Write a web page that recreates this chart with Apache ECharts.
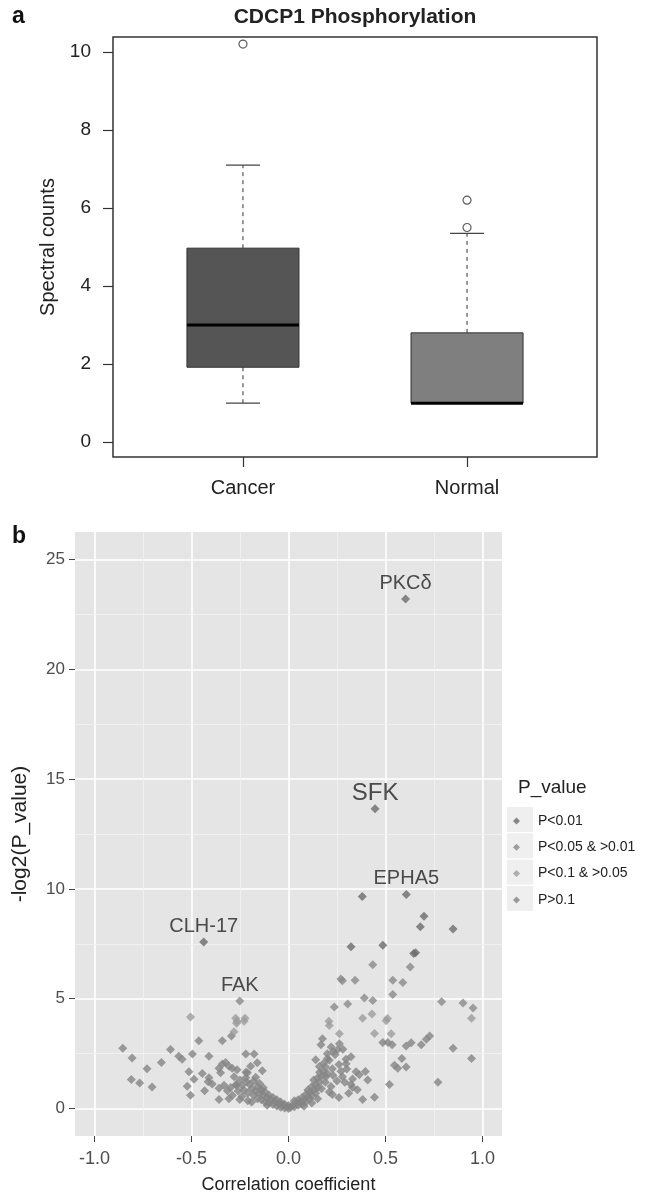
<!DOCTYPE html>
<html>
<head>
<meta charset="utf-8">
<script src="https://cdn.jsdelivr.net/npm/echarts@6.0.0/dist/echarts.min.js"></script>
<style>
  html, body { margin: 0; padding: 0; background: #fff; }
  #chart { width: 645px; height: 1199px; }
</style>
</head>
<body>
<div id="chart"></div>
<script>
// panel a - box plot
const boxCategories = ['Cancer', 'Normal'];
const boxLower = [1.0, 1.0];
const boxQ1 = [1.92, 1.0];
const boxMedian = [3.0, 1.0];
const boxQ3 = [4.97, 2.8];
const boxUpper = [7.1, 5.35];
const outlierGroup = [0, 1, 1];
const outlierValue = [10.2, 5.5, 6.2];
const yTicksA = [0, 2, 4, 6, 8, 10];

// panel b - volcano plot, [x, y, label]
const xTicksB = [-1, -0.5, 0, 0.5, 1];
const yTicksB = [0, 5, 10, 15, 20, 25];
const xMinorB = [-0.75, -0.25, 0.25, 0.75];
const yMinorB = [2.5, 7.5, 12.5, 17.5, 22.5];
const pNames = ['P<0.01', 'P<0.05 & >0.01', 'P<0.1 & >0.05', 'P>0.1'];

const pLt001 = [
  [0.603, 23.2, 'PKCδ'], [0.446, 13.65, 'SFK'], [0.607, 9.75, 'EPHA5'], [0.380, 9.65],
  [-0.437, 7.58, 'CLH-17'], [0.698, 8.75], [0.679, 8.28], [0.848, 8.18], [0.322, 7.37],
  [0.486, 7.43], [0.645, 7.06], [0.655, 7.09]
];
const pLt005 = [
  [-0.251, 4.9, 'FAK'], [0.434, 6.55], [0.627, 6.45], [0.270, 5.9], [0.278, 5.82],
  [0.343, 5.84], [0.537, 5.84], [0.589, 5.74], [0.391, 5.03], [0.434, 4.92], [0.537, 5.19],
  [0.236, 4.62], [0.305, 4.76], [0.789, 4.86], [0.899, 4.80], [0.951, 4.58]
];
const pLt01 = [
  [0.943, 4.11], [0.208, 3.97], [0.210, 3.78], [0.382, 4.11], [0.430, 4.30], [0.510, 4.10],
  [0.503, 4.00], [0.262, 3.40], [0.443, 3.42], [0.529, 3.40], [-0.505, 4.17], [-0.224, 4.11],
  [-0.229, 3.97], [-0.272, 4.11], [-0.265, 3.97], [-0.281, 3.50], [-0.268, 3.88]
];
const pGt01 = [
  // right side
  [0.727, 3.30], [0.710, 3.15], [0.486, 3.01], [0.512, 3.01], [0.534, 2.91], [0.606, 2.85],
  [0.632, 2.99], [0.684, 2.91], [0.848, 2.75], [0.231, 2.60], [0.296, 2.24], [0.584, 2.28],
  [0.943, 2.28], [0.546, 1.97], [0.606, 1.89], [0.563, 1.83], [0.348, 1.67], [0.396, 1.69],
  [0.408, 1.30], [0.520, 1.10], [0.770, 1.20], [0.330, 0.96], [0.382, 0.41], [0.443, 0.51],
  [0.175, 3.18], [0.167, 2.90], [0.262, 2.95], [0.253, 2.68], [0.322, 2.36], [0.140, 2.22],
  [0.200, 2.27], [0.159, 1.91], [0.226, 1.81], [0.297, 2.04], [0.365, 1.54], [0.193, 1.45],
  [0.278, 1.45], [0.322, 1.09], [0.219, 1.00], [0.355, 0.86], [0.226, 0.64],
  // left side
  [-0.462, 3.09], [-0.341, 3.09], [-0.294, 3.30], [-0.608, 2.69], [-0.854, 2.75], [-0.806, 2.30],
  [-0.655, 2.10], [-0.729, 1.81], [-0.565, 2.38], [-0.548, 2.24], [-0.495, 2.48], [-0.410, 2.38],
  [-0.513, 1.67], [-0.444, 1.59], [-0.410, 1.40], [-0.487, 1.33], [-0.810, 1.32], [-0.767, 1.16],
  [-0.703, 0.98], [-0.522, 1.02], [-0.432, 0.81], [-0.505, 0.61], [-0.358, 0.41], [-0.307, 0.45],
  [-0.251, 0.41], [-0.220, 2.48], [-0.177, 2.48], [-0.358, 1.83], [-0.341, 2.03], [-0.324, 2.10],
  [-0.307, 1.93], [-0.290, 1.83], [-0.350, 1.63], [-0.265, 1.77], [-0.212, 1.63], [-0.195, 1.93],
  [-0.169, 1.42], [-0.393, 1.12], [-0.358, 0.92], [-0.332, 1.06], [-0.298, 0.96], [-0.269, 1.06],
  [-0.315, 0.81], [-0.289, 0.61], [-0.161, 2.09], [-0.135, 1.72], [-0.216, 1.22], [-0.414, 1.22],
  // centre cluster, left arm
  [-0.25, 1.30], [-0.24, 1.05], [-0.23, 0.85], [-0.22, 1.40], [-0.21, 0.70], [-0.20, 1.10],
  [-0.19, 0.90], [-0.18, 1.25], [-0.18, 0.60], [-0.17, 0.80], [-0.16, 1.00], [-0.16, 0.45],
  [-0.15, 0.70], [-0.14, 0.85], [-0.14, 0.40], [-0.13, 0.60], [-0.12, 0.75], [-0.12, 0.30],
  [-0.11, 0.50], [-0.10, 0.60], [-0.10, 0.25], [-0.09, 0.40], [-0.08, 0.50], [-0.08, 0.18],
  [-0.07, 0.32], [-0.06, 0.40], [-0.06, 0.12], [-0.05, 0.25], [-0.04, 0.30], [-0.04, 0.06],
  [-0.03, 0.16], [-0.02, 0.20], [-0.02, 0.03], [-0.01, 0.08], [0.00, 0.00], [0.00, 0.14],
  [-0.26, 0.80], [-0.24, 0.55], [-0.21, 0.35], [-0.19, 0.30], [-0.27, 1.10], [-0.28, 1.45],
  [-0.22, 1.65], [-0.15, 1.15], [-0.13, 0.95], [-0.11, 0.15],
  // centre cluster, right arm
  [0.01, 0.05], [0.02, 0.15], [0.03, 0.08], [0.04, 0.25], [0.05, 0.15], [0.05, 0.40],
  [0.06, 0.30], [0.07, 0.50], [0.07, 0.20], [0.08, 0.40], [0.09, 0.65], [0.09, 0.30],
  [0.10, 0.55], [0.10, 0.85], [0.11, 0.45], [0.11, 0.75], [0.12, 1.00], [0.12, 0.60],
  [0.13, 0.85], [0.13, 1.30], [0.14, 1.10], [0.14, 0.70], [0.15, 1.40], [0.15, 0.95],
  [0.16, 1.20], [0.16, 1.65], [0.17, 1.45], [0.17, 0.90], [0.18, 1.70], [0.18, 2.05],
  [0.19, 1.90], [0.19, 1.20], [0.20, 2.50], [0.20, 1.60], [0.21, 2.20], [0.21, 0.75],
  [0.22, 2.80], [0.23, 1.50], [0.24, 2.45], [0.25, 1.25], [0.26, 2.00], [0.27, 1.70],
  [0.28, 2.70], [0.29, 1.20], [0.30, 1.80], [0.31, 0.70], [0.33, 1.35], [0.26, 0.50],
  [0.08, 0.10], [0.12, 0.25], [0.15, 0.45], [0.03, 0.35]
];

const pColors = ['#6c6c6c', '#8a8a8a', '#9c9c9c', '#858585'];
const boxColors = ['#555555', '#7f7f7f'];
const font = 'Liberation Sans, Arial, sans-serif';

const chart = echarts.init(document.getElementById('chart'));

function toItems(list) {
  return list.map(function (p) {
    const item = { value: [p[0], p[1]] };
    if (p[2]) {
      item.label = {
        show: true,
        formatter: p[2],
        position: 'top',
        distance: p[2] === 'SFK' ? -1 : 1,
        fontSize: p[2] === 'SFK' ? 24 : 20,
        fontFamily: font,
        color: '#222'
      };
    }
    return item;
  });
}

const boxData = boxCategories.map(function (c, i) {
  return [i + 1, boxLower[i], boxQ1[i], boxMedian[i], boxQ3[i], boxUpper[i]];
});

function renderBox(params, api) {
  const x = api.value(0);
  const lo = api.coord([x, api.value(1)]);
  const q1 = api.coord([x, api.value(2)]);
  const md = api.coord([x, api.value(3)]);
  const q3 = api.coord([x, api.value(4)]);
  const hi = api.coord([x, api.value(5)]);
  const left = api.coord([x - 0.25, 0])[0];
  const right = api.coord([x + 0.25, 0])[0];
  const capL = api.coord([x - 0.076, 0])[0];
  const capR = api.coord([x + 0.076, 0])[0];
  const cx = lo[0];
  const dash = { stroke: '#555', lineWidth: 1.2, lineDash: [4, 4] };
  const solid = { stroke: '#444', lineWidth: 1.2 };
  return {
    type: 'group',
    children: [
      { type: 'line', shape: { x1: cx, y1: q3[1], x2: cx, y2: hi[1] }, style: dash },
      { type: 'line', shape: { x1: cx, y1: q1[1], x2: cx, y2: lo[1] }, style: dash },
      { type: 'line', shape: { x1: capL, y1: hi[1], x2: capR, y2: hi[1] }, style: solid },
      { type: 'line', shape: { x1: capL, y1: lo[1], x2: capR, y2: lo[1] }, style: solid },
      {
        type: 'rect',
        shape: { x: left, y: q3[1], width: right - left, height: q1[1] - q3[1] },
        style: { fill: boxColors[params.dataIndex], stroke: '#333', lineWidth: 1 }
      },
      { type: 'line', shape: { x1: left, y1: md[1], x2: right, y2: md[1] }, style: { stroke: '#000', lineWidth: 3 } }
    ]
  };
}

const minorLines = xMinorB.map(function (v) { return { xAxis: v }; })
  .concat(yMinorB.map(function (v) { return { yAxis: v }; }));

const legendKeys = pNames.map(function (n, i) {
  return {
    type: 'rect',
    shape: { x: 507, y: 807 + i * 26.3, width: 26, height: 25 },
    style: { fill: '#efefef' }
  };
});

chart.setOption({
  animation: false,
  textStyle: { fontFamily: font },
  graphic: [
    { type: 'text', style: { text: 'a', x: 12, y: 17, font: 'bold 23px ' + font, fill: '#111', textVerticalAlign: 'middle' } },
    { type: 'text', style: { text: 'b', x: 12, y: 537, font: 'bold 23px ' + font, fill: '#111', textVerticalAlign: 'middle' } },
    { type: 'text', style: { text: 'CDCP1 Phosphorylation', x: 355, y: 17, font: 'bold 21px ' + font, fill: '#222', textAlign: 'center', textVerticalAlign: 'middle' } },
    { type: 'text', style: { text: 'P_value', x: 518, y: 788, font: '19px ' + font, fill: '#222', textVerticalAlign: 'middle' } }
  ].concat(legendKeys),
  legend: {
    data: pNames,
    orient: 'vertical',
    left: 508,
    top: 808,
    icon: 'diamond',
    itemWidth: 7,
    itemHeight: 7,
    itemGap: 10.3,
    textStyle: { fontSize: 14, color: '#222', lineHeight: 16, padding: [0, 0, 0, 13] }
  },
  grid: [
    { left: 113, top: 37, width: 484, height: 420, show: true, borderColor: '#333', borderWidth: 1.5, backgroundColor: 'transparent' },
    { left: 75, top: 532, width: 427, height: 604, show: true, borderWidth: 0, backgroundColor: '#e5e5e5' }
  ],
  xAxis: [
    {
      gridIndex: 0, type: 'value', min: 0.42, max: 2.58,
      axisLine: { show: false, onZero: false },
      axisTick: { show: true, length: 10, customValues: [1, 2], lineStyle: { color: '#333', width: 1.2 } },
      axisLabel: {
        customValues: [1, 2], margin: 21, fontSize: 20, color: '#222',
        formatter: function (v) { return boxCategories[Math.round(v) - 1]; }
      },
      splitLine: { show: false }
    },
    {
      gridIndex: 1, type: 'value', min: -1.1, max: 1.1,
      axisLine: { show: false, onZero: false },
      axisTick: { show: true, length: 6, customValues: xTicksB, lineStyle: { color: '#444' } },
      axisLabel: {
        customValues: xTicksB, margin: 14, fontSize: 18, color: '#4d4d4d',
        formatter: function (v) { return v.toFixed(1); }
      },
      splitLine: { show: true, lineStyle: { color: '#ffffff', width: 1.6 } },
      name: 'Correlation coefficient', nameLocation: 'middle', nameGap: 40,
      nameTextStyle: { fontSize: 18, color: '#222' }
    }
  ],
  yAxis: [
    {
      gridIndex: 0, type: 'value', min: -0.38, max: 10.38,
      axisLine: { show: false, onZero: false },
      axisTick: { show: true, length: 10, customValues: yTicksA, lineStyle: { color: '#333', width: 1.2 } },
      axisLabel: { customValues: yTicksA, margin: 22, fontSize: 19, color: '#222' },
      splitLine: { show: false },
      name: 'Spectral counts', nameLocation: 'middle', nameGap: 52,
      nameTextStyle: { fontSize: 20, color: '#222' }
    },
    {
      gridIndex: 1, type: 'value', min: -1.25, max: 26.25,
      axisLine: { show: false, onZero: false },
      axisTick: { show: true, length: 6, customValues: yTicksB, lineStyle: { color: '#444' } },
      axisLabel: { customValues: yTicksB, margin: 10, fontSize: 17, color: '#4d4d4d' },
      splitLine: { show: true, lineStyle: { color: '#ffffff', width: 1.6 } },
      name: '-log2(P_value)', nameLocation: 'middle', nameGap: 44,
      nameTextStyle: { fontSize: 21, color: '#222' }
    }
  ],
  series: [
    {
      type: 'custom', xAxisIndex: 0, yAxisIndex: 0,
      renderItem: renderBox,
      encode: { x: 0, y: [1, 2, 3, 4, 5] },
      data: boxData
    },
    {
      type: 'scatter', xAxisIndex: 0, yAxisIndex: 0,
      symbol: 'circle', symbolSize: 8,
      itemStyle: { color: '#fff', borderColor: '#333', borderWidth: 1.2 },
      data: outlierGroup.map(function (g, i) { return [g + 1, outlierValue[i]]; })
    },
    {
      name: pNames[3], type: 'scatter', xAxisIndex: 1, yAxisIndex: 1,
      symbol: 'diamond', symbolSize: 9, itemStyle: { color: pColors[3] },
      data: toItems(pGt01),
      markLine: {
        silent: true, symbol: 'none', z: 1,
        label: { show: false },
        lineStyle: { color: '#f3f3f3', width: 0.8, type: 'solid' },
        data: minorLines
      }
    },
    {
      name: pNames[2], type: 'scatter', xAxisIndex: 1, yAxisIndex: 1,
      symbol: 'diamond', symbolSize: 9, itemStyle: { color: pColors[2] },
      data: toItems(pLt01)
    },
    {
      name: pNames[1], type: 'scatter', xAxisIndex: 1, yAxisIndex: 1,
      symbol: 'diamond', symbolSize: 9, itemStyle: { color: pColors[1] },
      data: toItems(pLt005)
    },
    {
      name: pNames[0], type: 'scatter', xAxisIndex: 1, yAxisIndex: 1,
      symbol: 'diamond', symbolSize: 9, itemStyle: { color: pColors[0] },
      data: toItems(pLt001)
    }
  ]
});
</script>
</body>
</html>
